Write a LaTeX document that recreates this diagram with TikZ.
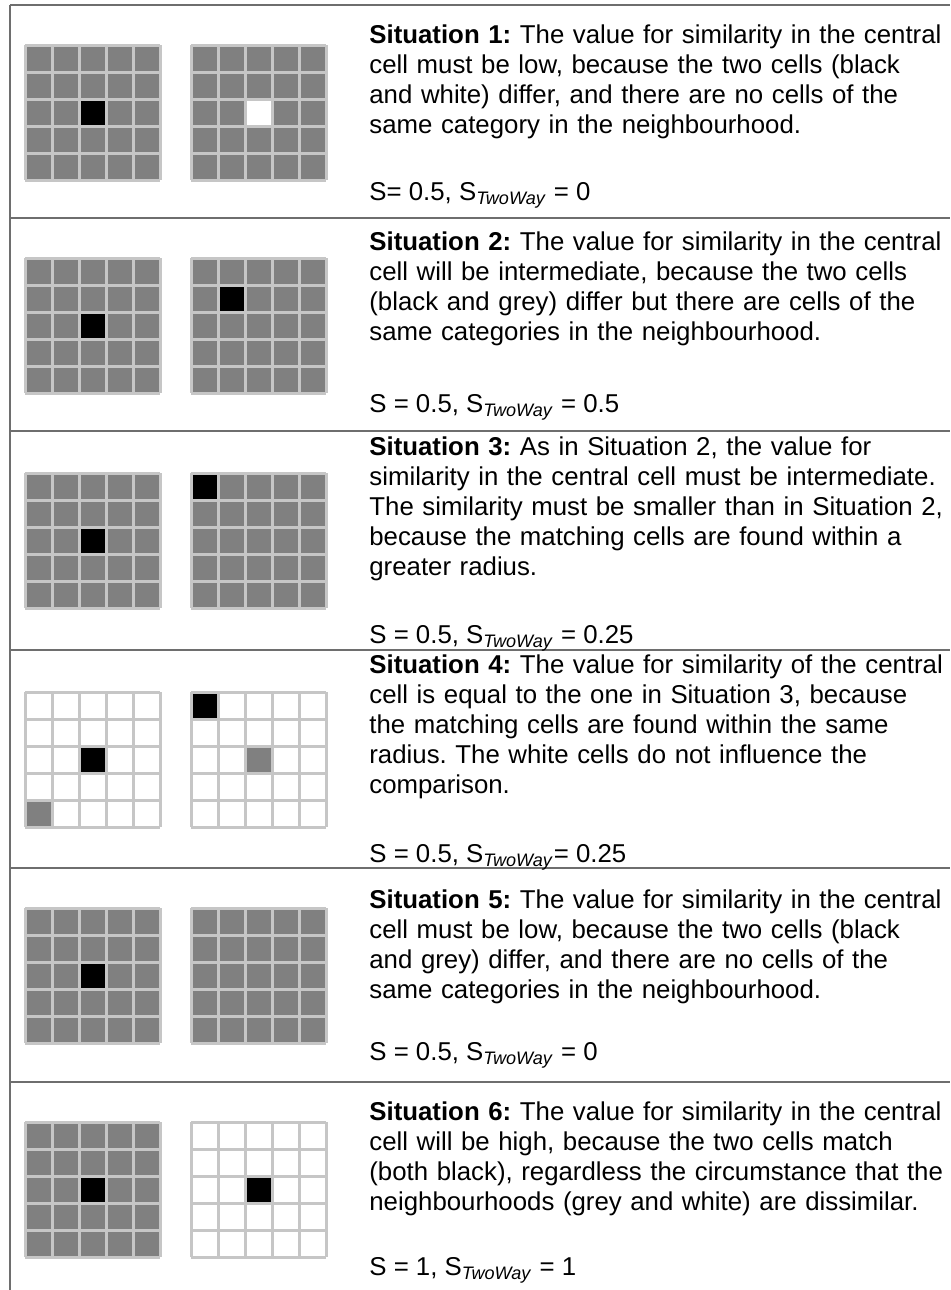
\documentclass[tikz,border=0pt]{standalone}
\usepackage{fontspec}
\setmainfont{Liberation Sans}
\usetikzlibrary{positioning}
\definecolor{cellgrey}{HTML}{808080}
\definecolor{gridline}{HTML}{C6C6C6}
\definecolor{rulegrey}{HTML}{6E6E6E}
\tikzset{
  rowrule/.style={draw=rulegrey, line width=1.4pt},
  every node/.style={anchor=base west, inner sep=0pt}
}
% 5x5 neighbourhood: #1,#2 top left corner, #3 background
\newcommand{\cellgrid}[3]{%
  \fill[#3] (#1,#2) rectangle ++(135,135);
  \foreach \k in {0,...,5}{
    \draw[gridline, line width=1.5pt] ({#1+27*\k},#2) -- ++(0,135);
    \draw[gridline, line width=1.5pt] (#1,{#2+27*\k}) -- ++(135,0);
  }%
}
% one coloured cell: #3 column, #4 row, #5 colour
\newcommand{\markcell}[5]{%
  \fill[#5] ({#1+27*#3+1.5},{#2+27*#4+1.5}) rectangle ++(24,24);%
}

\begin{document}
\frenchspacing
\begin{tikzpicture}[
  x=0.5pt, y=-0.5pt,
  desc/.style={font=\fontsize{12.9}{15}\selectfont, align=left, text width=300pt},
  sval/.style={font=\fontsize{12.9}{15}\selectfont}
]
\useasboundingbox (0,0) rectangle (950,1290);
\fill[white] (0,0) rectangle (950,1290);

% frame
\draw[rowrule] (10,5) -- (950,5);
\draw[rowrule] (10,5) -- (10,1290);
\foreach \yy in {218,431,650,868,1082}
  \draw[rowrule] (10,\yy) -- (950,\yy);

% situation 1
\cellgrid{25}{45}{cellgrey}
\markcell{25}{45}{2}{2}{black}
\cellgrid{191}{45}{cellgrey}
\markcell{191}{45}{2}{2}{white}
\node[desc] (sit1) at (369,43) {\textbf{Situation 1:} The value for similarity in the central\\cell must be low, because the two cells (black\\and white) differ, and there are no cells of the\\same category in the neighbourhood.};
\node[sval] (val1) at (369,200) {S= 0.5, S\textsubscript{\textit{TwoWay}} = 0};

% situation 2
\cellgrid{25}{258}{cellgrey}
\markcell{25}{258}{2}{2}{black}
\cellgrid{191}{258}{cellgrey}
\markcell{191}{258}{1}{1}{black}
\node[desc] (sit2) at (369,250) {\textbf{Situation 2:} The value for similarity in the central\\cell will be intermediate, because the two cells\\(black and grey) differ but there are cells of the\\same categories in the neighbourhood.};
\node[sval] (val2) at (369,412) {S = 0.5, S\textsubscript{\textit{TwoWay}} = 0.5};

% situation 3
\cellgrid{25}{473}{cellgrey}
\markcell{25}{473}{2}{2}{black}
\cellgrid{191}{473}{cellgrey}
\markcell{191}{473}{0}{0}{black}
\node[desc] (sit3) at (369,455) {\textbf{Situation 3:} As in Situation 2, the value for\\similarity in the central cell must be intermediate.\\The similarity must be smaller than in Situation 2,\\because the matching cells are found within a\\greater radius.};
\node[sval] (val3) at (369,643) {S = 0.5, S\textsubscript{\textit{TwoWay}} = 0.25};

% situation 4
\cellgrid{25}{692}{white}
\markcell{25}{692}{2}{2}{black}
\markcell{25}{692}{0}{4}{cellgrey}
\cellgrid{191}{692}{white}
\markcell{191}{692}{0}{0}{black}
\markcell{191}{692}{2}{2}{cellgrey}
\node[desc] (sit4) at (369,673) {\textbf{Situation 4:} The value for similarity of the central\\cell is equal to the one in Situation 3, because\\the matching cells are found within the same\\radius. The white cells do not influence the\\comparison.};
\node[sval] (val4) at (369,862) {S = 0.5, S\textsubscript{\textit{TwoWay}}= 0.25};

% situation 5
\cellgrid{25}{908}{cellgrey}
\markcell{25}{908}{2}{2}{black}
\cellgrid{191}{908}{cellgrey}
\node[desc] (sit5) at (369,908) {\textbf{Situation 5:} The value for similarity in the central\\cell must be low, because the two cells (black\\and grey) differ, and there are no cells of the\\same categories in the neighbourhood.};
\node[sval] (val5) at (369,1060) {S = 0.5, S\textsubscript{\textit{TwoWay}} = 0};

% situation 6
\cellgrid{25}{1122}{cellgrey}
\markcell{25}{1122}{2}{2}{black}
\cellgrid{191}{1122}{white}
\markcell{191}{1122}{2}{2}{black}
\node[desc] (sit6) at (369,1120) {\textbf{Situation 6:} The value for similarity in the central\\cell will be high, because the two cells match\\(both black), regardless the circumstance that the\\neighbourhoods (grey and white) are dissimilar.};
\node[sval] (val6) at (369,1275) {S = 1, S\textsubscript{\textit{TwoWay}} = 1};
\end{tikzpicture}
\end{document}
